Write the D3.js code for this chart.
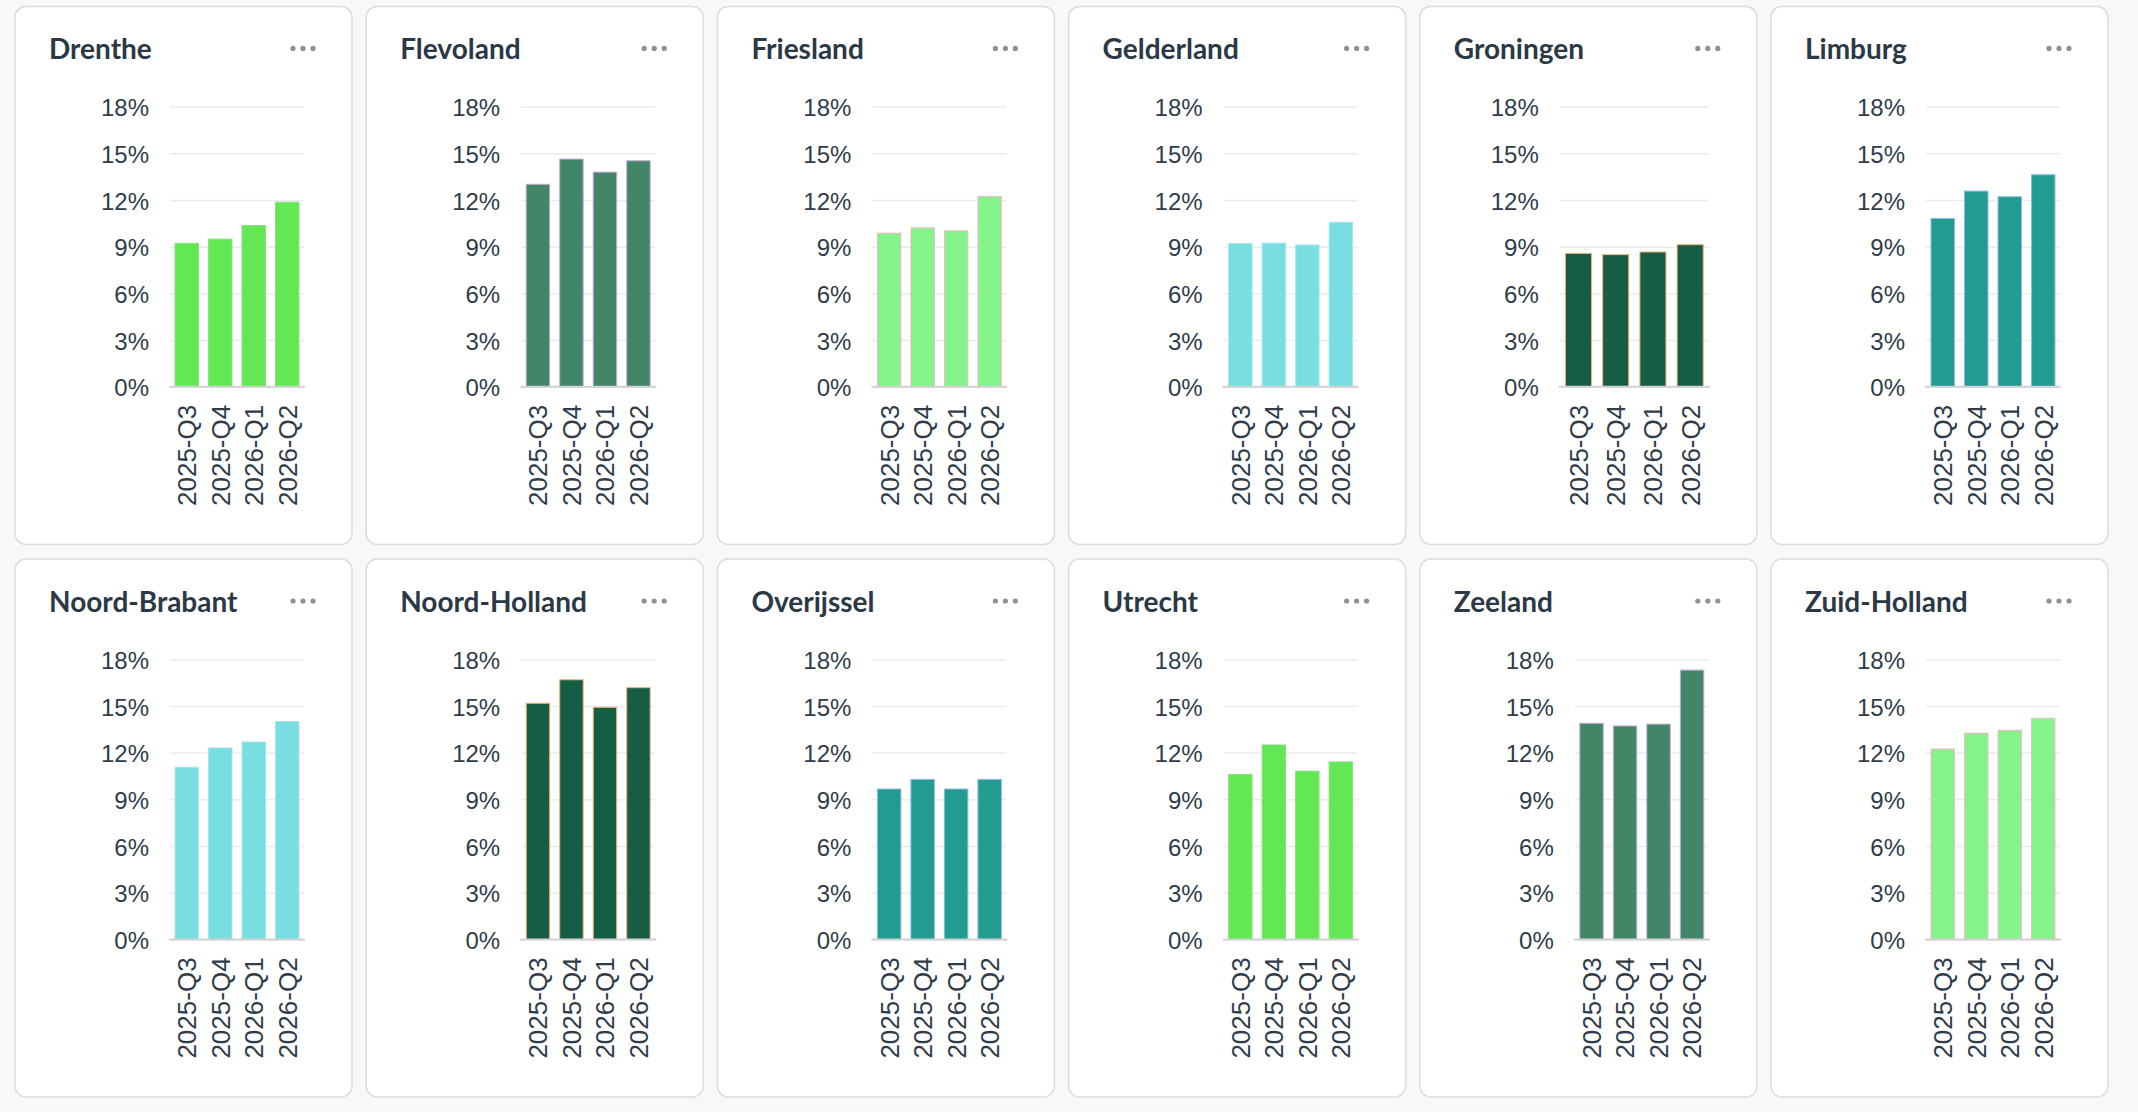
<!DOCTYPE html>
<html>
<head>
  <meta charset="utf-8">
  <title>Provincies per kwartaal</title>
  <script src="https://d3js.org/d3.v7.min.js"></script>
  <style>
    body {
      margin: 0;
      padding: 0;
      background-color: #f8f8f8;
    }
    svg {
      font-family: Lato, "Open Sans", sans-serif;
      display: block;
    }
    .card rect.frame {
      fill: #ffffff;
      stroke: #dcdcdc;
      stroke-width: 1.5px;
    }
    .title {
      font-size: 28px;
      font-weight: 700;
      fill: #2b3845;
    }
    .axis text {
      font-size: 24px;
      fill: #2f3c4a;
    }
    .x-axis text {
      font-family: "Liberation Sans", Arial, sans-serif;
      font-size: 26px;
    }
    .y-axis line {
      stroke: #ebebeb;
      stroke-width: 1.5px;
    }
    .baseline {
      stroke: #d2d2d2;
      stroke-width: 2px;
    }
  </style>
</head>
<body>

  <div id="chart"></div>

  <script>
    // Data (percentages)
    var regions = ["Drenthe", "Flevoland", "Friesland", "Gelderland", "Groningen", "Limburg",
                   "Noord-Brabant", "Noord-Holland", "Overijssel", "Utrecht", "Zeeland", "Zuid-Holland"];
    var quarters = ["2025-Q3", "2025-Q4", "2026-Q1", "2026-Q2"];
    var yTicks = [0, 3, 6, 9, 12, 15, 18];

    var drenthe      = [9.22, 9.49, 10.36, 11.86];
    var flevoland    = [13.01, 14.63, 13.79, 14.52];
    var friesland    = [9.87, 10.21, 10.02, 12.23];
    var gelderland   = [9.21, 9.23, 9.11, 10.57];
    var groningen    = [8.57, 8.49, 8.66, 9.13];
    var limburg      = [10.81, 12.57, 12.21, 13.62];
    var noordBrabant = [11.06, 12.30, 12.68, 14.00];
    var noordHolland = [15.17, 16.68, 14.91, 16.17];
    var overijssel   = [9.66, 10.28, 9.66, 10.28];
    var utrecht      = [10.60, 12.49, 10.81, 11.40];
    var zeeland      = [13.88, 13.71, 13.83, 17.30];
    var zuidHolland  = [12.23, 13.25, 13.43, 14.21];

    var series = [drenthe, flevoland, friesland, gelderland, groningen, limburg,
                  noordBrabant, noordHolland, overijssel, utrecht, zeeland, zuidHolland];

    // Colours: six fills, each with its own thin outline
    var fills   = ["#61e853", "#428567", "#84f38a", "#78dee2", "#155e45", "#229c90"];
    var strokes = ["#8fdc86", "#c3a9dc", "#f3b9c6", "#a8e6ec", "#f0b27a", "#8ab8e8"];
    var colourOf = [0, 1, 2, 3, 4, 5, 3, 4, 5, 0, 1, 2];

    // Layout
    var width = 2138, height = 1112;
    var cardW = 337, cardH = 538, colStep = 351.2;
    var rowTops = [6.4, 559];
    var plotTop = 100.2, plotBottom = 380.4;
    var plotLeft = 155, plotRight = 289;
    var leftOverride = { "Groningen": 140 };

    var svg = d3.select("#chart")
      .append("svg")
        .attr("width", width)
        .attr("height", height);

    var y = d3.scaleLinear()
      .domain([0, 18])
      .range([plotBottom, plotTop]);

    regions.forEach(function(name, i) {
      var col = i % 6, row = Math.floor(i / 6);
      var left = leftOverride[name] || plotLeft;
      var c = colourOf[i];

      var card = svg.append("g")
        .attr("class", "card")
        .attr("transform", "translate(" + (15 + col * colStep) + "," + rowTops[row] + ")");

      card.append("rect")
        .attr("class", "frame")
        .attr("width", cardW)
        .attr("height", cardH)
        .attr("rx", 11);

      card.append("text")
        .attr("class", "title")
        .attr("x", 34)
        .attr("y", 53)
        .text(name);

      // menu dots
      card.selectAll(".dot")
        .data([0, 1, 2])
        .enter()
        .append("circle")
          .attr("cx", function(d) { return 278 + d * 10; })
          .attr("cy", 42)
          .attr("r", 2.6)
          .attr("fill", "#8d9296");

      var x = d3.scaleBand()
        .domain(quarters)
        .range([left, plotRight])
        .paddingInner(0.3)
        .paddingOuter(0.15);

      // y axis with gridlines
      var yAxis = card.append("g")
        .attr("class", "axis y-axis")
        .attr("transform", "translate(" + left + ",0)")
        .call(d3.axisLeft(y)
          .tickValues(yTicks)
          .tickFormat(function(d) { return d + "%"; })
          .tickSize(-(plotRight - left))
          .tickPadding(21));
      yAxis.select(".domain").remove();
      yAxis.selectAll(".tick text").attr("dy", "0.38em");

      // bars
      card.selectAll(".bar")
        .data(series[i])
        .enter()
        .append("rect")
          .attr("class", "bar")
          .attr("x", function(d, j) { return x(quarters[j]); })
          .attr("width", x.bandwidth())
          .attr("y", function(d) { return y(d); })
          .attr("height", function(d) { return y(0) - y(d); })
          .attr("fill", fills[c])
          .attr("stroke", strokes[c])
          .attr("stroke-width", 1);

      // baseline
      card.append("line")
        .attr("class", "baseline")
        .attr("x1", left - 1)
        .attr("x2", plotRight + 1)
        .attr("y1", y(0))
        .attr("y2", y(0));

      // x axis, labels turned upright
      var xAxis = card.append("g")
        .attr("class", "axis x-axis")
        .attr("transform", "translate(0," + y(0) + ")")
        .call(d3.axisBottom(x).tickSize(0));
      xAxis.select(".domain").remove();
      xAxis.selectAll(".tick text")
        .attr("transform", "rotate(-90)")
        .attr("text-anchor", "end")
        .attr("x", -18)
        .attr("y", 0)
        .attr("dy", "0.36em");
    });
  </script>

</body>
</html>
